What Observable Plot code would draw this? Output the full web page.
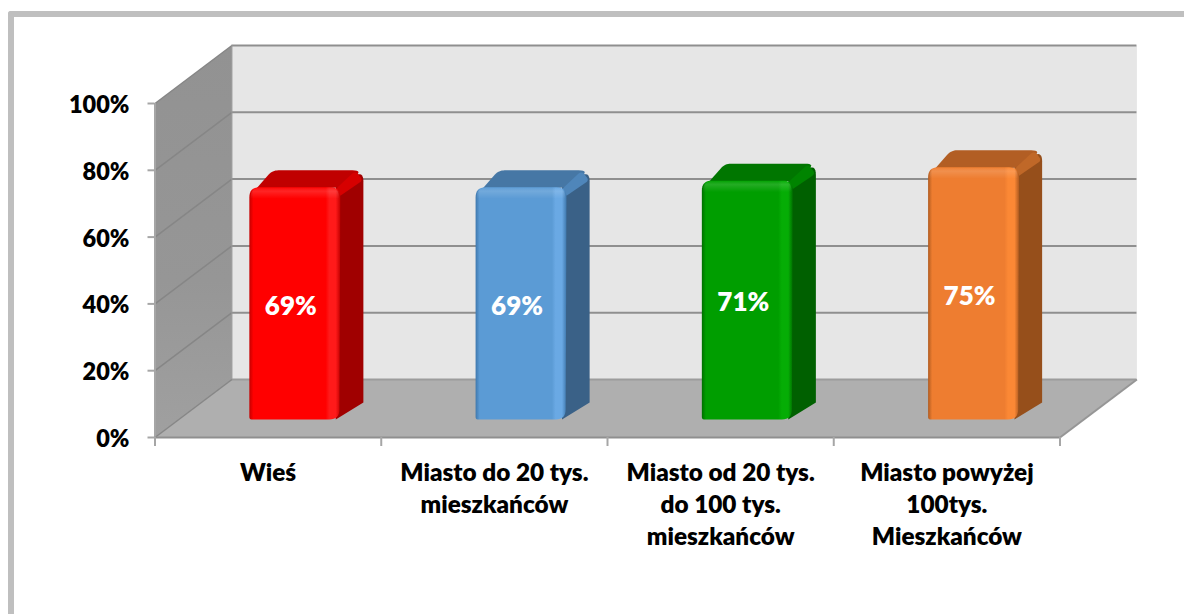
<!DOCTYPE html>
<html lang="pl">
<head>
<meta charset="utf-8">
<script src="https://cdn.jsdelivr.net/npm/d3@7"></script>
<script src="https://cdn.jsdelivr.net/npm/@observablehq/plot@0.6"></script>
<style>
html,body{margin:0;padding:0;background:#fff;width:1184px;height:614px;overflow:hidden}
#frame{position:absolute;left:8px;top:11px;width:1300px;height:800px;border-left:6px solid #bfbfbf;border-top:6px solid #bfbfbf;border-top-left-radius:3px;box-sizing:border-box}
#chart{position:absolute;left:0;top:0}
</style>
</head>
<body>
<div id="frame"></div>
<div id="chart"></div>
<script>
// Data
const categories = [
  "Wieś",
  "Miasto do 20 tys.\nmieszkańców",
  "Miasto od 20 tys.\ndo 100 tys.\nmieszkańców",
  "Miasto powyżej\n100tys.\nMieszkańców"
];
const values = [69.5, 69.5, 71.5, 75.5];
const valueLabels = ["69%", "69%", "71%", "75%"];
const yTicks = [0, 20, 40, 60, 80, 100];
const xTicks = [0, 1, 2, 3, 4];

// Bar colours: front, front highlight, front dark edge, top, top ridge, side
const barColors = [
  {front:"#ff0000", light:"#ff1a1a", edge:"#c40000", top:"#c00000", ridge:"#d60000", side:"#a00000"},
  {front:"#5b9bd5", light:"#6aa9e4", edge:"#3f78ad", top:"#4677a5", ridge:"#4f86ba", side:"#3a6187"},
  {front:"#009e00", light:"#05ad05", edge:"#006f00", top:"#007600", ridge:"#008400", side:"#006000"},
  {front:"#ee7d30", light:"#fb8835", edge:"#b05b20", top:"#b25e24", ridge:"#c06828", side:"#964f1b"}
];

// Oblique depth of the 3D frame, in axis units
const wallDX = 0.34, wallDY = 17.37;
const barLeft = 0.417, barWidth = 0.402, barBase = 5.39, barDX = 0.102, barDY = 5.1;
const fontFamily = "Lato, Carlito, sans-serif";

const back = (x, y) => ({x: x + wallDX, y: y + wallDY});

// Corner-rounded closed outline; each corner = [x, y, radiusFraction]
function rounded(corners) {
  const out = [];
  const n = corners.length;
  corners.forEach((c, i) => {
    const p = corners[(i + n - 1) % n], q = corners[(i + 1) % n], t = c[2] || 0;
    if (!t) { out.push({x: c[0], y: c[1]}); return; }
    const rx = t * 0.044, ry = t * 3;
    const unit = (a) => {
      const dx = (a[0] - c[0]) / rx, dy = (a[1] - c[1]) / ry;
      const l = Math.hypot(dx, dy) || 1;
      return [c[0] + dx / l * rx, c[1] + dy / l * ry];
    };
    const a = unit(p), b = unit(q);
    for (let k = 0; k <= 8; k++) {
      const s = k / 8, u = 1 - s;
      out.push({x: u*u*a[0] + 2*u*s*c[0] + s*s*b[0], y: u*u*a[1] + 2*u*s*c[1] + s*s*b[1]});
    }
  });
  return out;
}
const poly = (pts, fill, extra = {}) =>
  Plot.line([...pts, pts[0]], {x: "x", y: "y", fill, stroke: "none", ...extra});

// Gradient definitions
function defsMark() {
  const g = d3.create("svg:g");
  const defs = g.append("defs");
  const grad = (id, attrs, stops) => {
    const el = defs.append("linearGradient").attr("id", id);
    Object.entries(attrs).forEach(([k, v]) => el.attr(k, v));
    stops.forEach(([o, c, a]) => el.append("stop").attr("offset", o).attr("stop-color", c).attr("stop-opacity", a ?? 1));
  };
  barColors.forEach((c, i) => {
    grad("front" + i, {x1: 0, x2: 1, y1: 0, y2: 0}, [
      [0, c.edge], [0.045, c.front], [0.84, c.front], [0.88, c.light], [0.95, c.light], [1, c.edge]
    ]);
    grad("cap" + i, {x1: 0, x2: 0, y1: 0, y2: 1}, [
      [0, c.light, 0.2], [0.35, "#ffffff", 0.14], [1, "#ffffff", 0]
    ]);
  });
  grad("wall", {x1: 0, x2: 0, y1: 0, y2: 1}, [[0, "#929292"], [0.6, "#969696"], [1, "#a0a0a0"]]);
  return g.node();
}

// Frame pieces
const leftWall = [{x:0,y:0}, back(0,0), back(0,100), {x:0,y:100}];
const floor = [{x:0,y:0}, {x:4,y:0}, back(4,0), back(0,0)];
const backWall = [back(0,0), back(4,0), back(4,100), back(0,100)];

const marks = [
  defsMark,
  poly(backWall, "#e6e6e6"),
  poly(leftWall, "url(#wall)"),
  poly(floor, "#afafaf"),
  // gridlines on the back wall and left wall
  Plot.ruleY(yTicks, {x1: wallDX, x2: 4 + wallDX, y: d => d + wallDY, stroke: d => d === 0 ? "#9c9c9c" : "#8f8f8f", strokeWidth: 2}),
  Plot.link(yTicks, {x1: 0, y1: d => d, x2: wallDX, y2: d => d + wallDY, stroke: "#868686", strokeWidth: 1.5}),
  // frame edges
  Plot.link([0], {x1: 4, y1: 0, x2: 4 + wallDX, y2: wallDY, stroke: "#969696", strokeWidth: 2}),
  Plot.ruleX([0], {y1: 0, y2: 100, stroke: "#a6a6a6", strokeWidth: 2}),
  Plot.ruleX([wallDX], {y1: wallDY, y2: 100 + wallDY, stroke: "#9a9a9a", strokeWidth: 1}),
  Plot.ruleY([0], {x1: 0, x2: 4, stroke: "#8f8f8f", strokeWidth: 2}),
  Plot.axisY({ticks: yTicks, tickFormat: null, tickSize: 7, label: null, stroke: "#a6a6a6", strokeWidth: 2, text: null}),
  Plot.text(yTicks, {x: 0, y: d => d, text: d => d + "%", textAnchor: "end", dx: -25.5, dy: 2,
    fill: "#000", fontFamily, fontSize: 23.5, fontWeight: 800}),
  Plot.axisX({ticks: xTicks, tickFormat: () => "", tickSize: 9, label: null, stroke: "#a6a6a6", strokeWidth: 2}),
];

// Bars
values.forEach((v, i) => {
  const c = barColors[i];
  const x1 = i + barLeft, x2 = x1 + barWidth, y0 = barBase, y1 = barBase + v;
  marks.push(
    poly(rounded([[x2 - 0.02, y0], [x2 + barDX, y0 + barDY], [x2 + barDX, y1 + barDY, 1.1], [x2 - 0.02, y1]]), c.side),
    poly(rounded([[x1 + 0.01, y1 - 2], [x1 + barDX, y1 + barDY, 0.6], [x2 + barDX, y1 + barDY, 1.1], [x2, y1]]), c.top),
    poly(rounded([[x2 - 0.02, y1 - 0.5], [x2 + barDX - 0.035, y1 + barDY - 0.1, 0.5], [x2 + barDX - 0.002, y1 + barDY - 3, 0.4], [x2, y1 - 2.5]]), c.ridge),
    poly(rounded([[x1, y0, 0.25], [x2 - 0.004, y0, 1], [x2, y1, 1], [x1, y1, 1]]), `url(#front${i})`),
    poly(rounded([[x1 + 0.006, y1 - 3.4], [x1 + 0.006, y1, 1], [x2 - 0.006, y1, 1], [x2 - 0.006, y1 - 3.4]]), `url(#cap${i})`)
  );
});

// Value labels and category labels
marks.push(
  Plot.text(values, {x: (d, i) => i + barLeft + barWidth / 2, y: d => barBase + d / 2, text: (d, i) => valueLabels[i],
    fill: "#fff", fontFamily, fontSize: 26, fontWeight: 800, dx: -4, dy: 3}),
  Plot.text(categories, {x: (d, i) => i + 0.5, y: -6.2, text: d => d, lineAnchor: "top", lineHeight: 1.317, textAnchor: "middle",
    fill: "#000", fontFamily, fontSize: 24.3, fontWeight: 800})
);

const chart = Plot.plot({
  width: 1184, height: 614,
  marginLeft: 154.5, marginRight: 124.5, marginTop: 103, marginBottom: 177,
  x: {domain: [0, 4]},
  y: {domain: [0, 100]},
  style: {background: "transparent", overflow: "visible"},
  marks
});
document.getElementById("chart").appendChild(chart);
</script>
</body>
</html>
